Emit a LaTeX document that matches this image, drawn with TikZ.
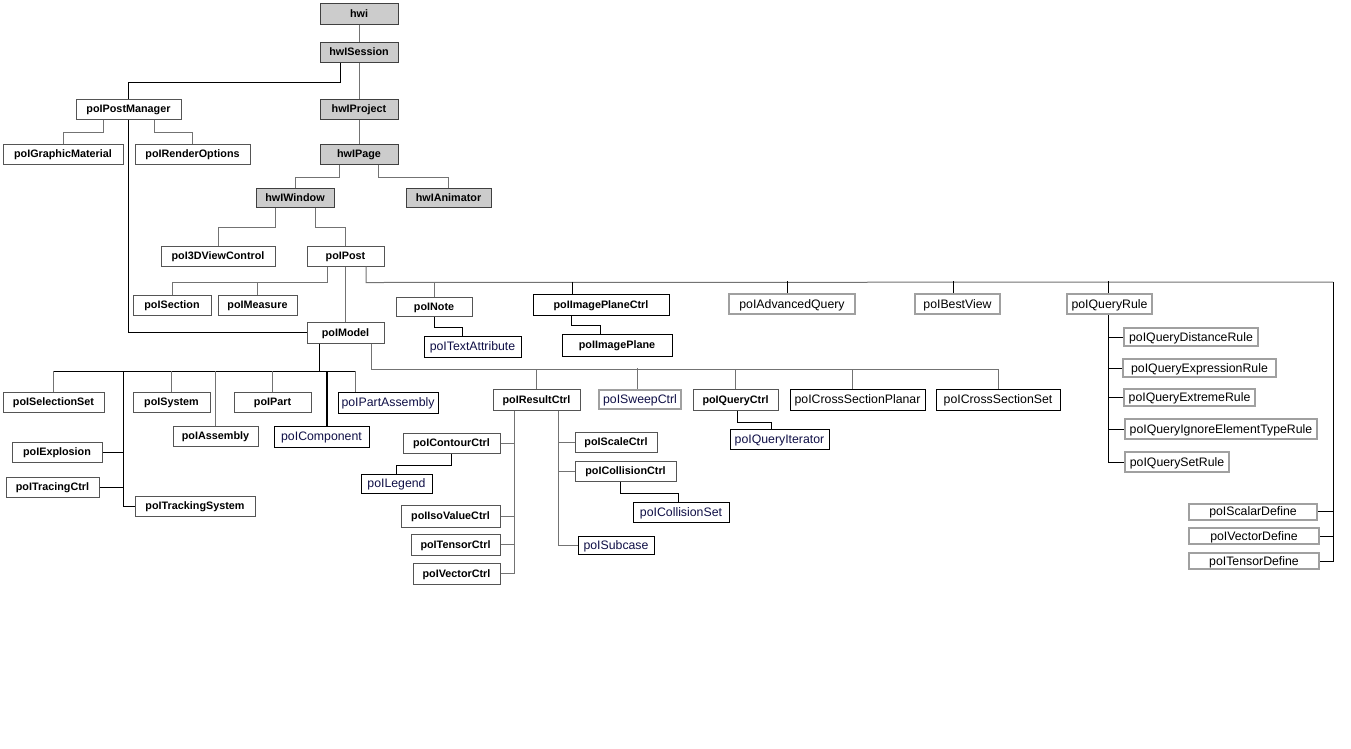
\documentclass[tikz,border=0pt]{standalone}
\usepackage{fontspec}
\setmainfont{Liberation Sans}
\usepackage{tikz}

\definecolor{hwgray}{RGB}{204,204,204}
\definecolor{boxline}{RGB}{85,85,85}
\definecolor{framegray}{RGB}{160,160,160}
\definecolor{linkgray}{RGB}{115,115,115}
\definecolor{polnavy}{RGB}{15,15,70}

\begin{document}
\begin{tikzpicture}[x=1pt, y=-1pt,
    sz/.style 2 args={minimum width=#1pt, minimum height=#2pt},
    polbox/.style={draw=boxline, line width=1pt, fill=white, inner sep=0pt, sz={80}{20},
        text height=7.8pt, text depth=0pt, font=\fontsize{10.8pt}{12pt}\selectfont\bfseries},
    hwbox/.style={polbox, fill=hwgray, draw=black!75},
    inkbox/.style={polbox, draw=black},
    plainbox/.style={draw=black, line width=1pt, fill=white, inner sep=0pt, sz={80}{20},
        text height=8.6pt, text depth=0pt, text=polnavy, font=\fontsize{12.3pt}{14pt}\selectfont},
    greybox/.style={draw=framegray, line width=2pt, fill=white, inner sep=0pt, sz={80}{20},
        text height=8.6pt, text depth=0pt, font=\fontsize{12.3pt}{14pt}\selectfont},
    link/.style={draw=linkgray, line width=1pt},
    blink/.style={draw=black, line width=1pt}]

    \fill[white] (0,0) rectangle (1351,748);
    \useasboundingbox (0,0) rectangle (1351,748);

    \node[hwbox, sz={78}{21}] (hwi) at (359,13.5) {hwi};
    \node[hwbox, sz={78}{20}] (session) at (359,52) {hwISession};
    \node[hwbox, sz={78}{20}] (project) at (359,109) {hwIProject};
    \node[hwbox, sz={78}{20}] (page) at (359,154) {hwIPage};
    \node[hwbox, sz={78}{19}] (window) at (295,197.5) {hwIWindow};
    \node[hwbox, sz={85}{19}] (animator) at (448.5,197.5) {hwIAnimator};

    \node[polbox, sz={105}{20}] (postmgr) at (128.5,109) {poIPostManager};
    \node[polbox, sz={120}{20}] (graphic) at (63,154) {poIGraphicMaterial};
    \node[polbox, sz={115}{20}] (render) at (192.5,154) {poIRenderOptions};
    \node[polbox, sz={114}{20}] (view3d) at (218,256) {poI3DViewControl};
    \node[polbox, sz={77}{20}] (post) at (345.5,256) {poIPost};
    \node[polbox, sz={78}{20}] (section) at (172,305) {poISection};
    \node[polbox, sz={79}{20}] (measure) at (257.5,305) {poIMeasure};
    \node[polbox, sz={77}{21}] (model) at (345.5,332.5) {poIModel};
    \node[polbox, sz={76}{19}] (note) at (434,306.5) {poINote};
    \node[plainbox, sz={97}{21}] (textattr) at (472.5,346.5) {poITextAttribute};
    \node[inkbox, sz={136}{21}] (imgctrl) at (601,304.5) {poIImagePlaneCtrl};
    \node[inkbox, sz={110}{22}] (imgplane) at (617,345) {poIImagePlane};

    \node[greybox, sz={126}{20}] (advquery) at (792,304) {poIAdvancedQuery};
    \node[greybox, sz={85}{20}] (bestview) at (957.5,304) {poIBestView};
    \node[greybox, sz={85}{20}] (qrule) at (1109.5,304) {poIQueryRule};
    \node[greybox, sz={134}{18}] (qdist) at (1191,337) {poIQueryDistanceRule};
    \node[greybox, sz={153}{18}] (qexpr) at (1199.5,368) {poIQueryExpressionRule};
    \node[greybox, sz={131}{17}] (qextreme) at (1189.5,397.5) {poIQueryExtremeRule};
    \node[greybox, sz={192}{20}] (qignore) at (1221,429) {poIQueryIgnoreElementTypeRule};
    \node[greybox, sz={104}{20}] (qset) at (1177,462) {poIQuerySetRule};
    \node[greybox, sz={128}{16}] (scalardef) at (1253,511.5) {poIScalarDefine};
    \node[greybox, sz={130}{16}] (vectordef) at (1254,536) {poIVectorDefine};
    \node[greybox, sz={130}{16}] (tensordef) at (1254,561) {poITensorDefine};

    \node[polbox, sz={101}{20}] (selset) at (53.5,402) {poISelectionSet};
    \node[polbox, sz={77}{20}] (system) at (171.5,402) {poISystem};
    \node[polbox, sz={77}{20}] (part) at (272.5,402) {poIPart};
    \node[plainbox, sz={100}{21}] (partasm) at (388,402.5) {poIPartAssembly};
    \node[polbox, sz={85}{20}] (assembly) at (215.5,436) {poIAssembly};
    \node[plainbox, sz={95}{21}] (component) at (321.5,436.5) {poIComponent};
    \node[polbox, sz={90}{20}] (explosion) at (57,452) {poIExplosion};
    \node[polbox, sz={93}{20}] (tracing) at (52.5,487) {poITracingCtrl};
    \node[polbox, sz={120}{20}] (tracking) at (195,506) {poITrackingSystem};

    \node[polbox, sz={87}{21}] (result) at (536.5,399.5) {poIResultCtrl};
    \node[greybox, text=polnavy, sz={82}{19}] (sweep) at (640,399.5) {poISweepCtrl};
    \node[polbox, sz={85}{21}] (qctrl) at (735.5,399.5) {poIQueryCtrl};
    \node[plainbox, text=black, sz={135}{21}] (xplanar) at (857.5,399.5) {poICrossSectionPlanar};
    \node[plainbox, text=black, sz={124}{21}] (xset) at (998,399.5) {poICrossSectionSet};
    \node[plainbox, sz={99}{20}] (qiter) at (779.5,439) {poIQueryIterator};

    \node[polbox, sz={97}{20}] (contour) at (451.5,443) {poIContourCtrl};
    \node[plainbox, sz={71}{19}] (legend) at (396.5,483.5) {poILegend};
    \node[polbox, sz={99}{22}] (isovalue) at (450.5,516) {poIIsoValueCtrl};
    \node[polbox, sz={89}{21}] (tensor) at (455.5,544.5) {poITensorCtrl};
    \node[polbox, sz={87}{21}] (vector) at (456.5,573.5) {poIVectorCtrl};
    \node[polbox, sz={82}{20}] (scale) at (616,442) {poIScaleCtrl};
    \node[polbox, sz={101}{20}] (collision) at (625.5,471) {poICollisionCtrl};
    \node[plainbox, sz={96}{20}] (collset) at (681,512) {poICollisionSet};
    \node[plainbox, sz={76}{18}] (subcase) at (616,545) {poISubcase};

    \draw[link] (hwi) -- (session);
    \draw[link] (session) -- (project);
    \draw[link] (project) -- (page);
    \draw[blink] ([xshift=-19pt]session.south) -- ++(0,20) -| (postmgr);
    \draw[link] ([xshift=-25.5pt]postmgr.south) -- ++(0,13) -| (graphic);
    \draw[link] ([xshift=25.5pt]postmgr.south) -- ++(0,13) -| (render);
    \draw[blink] (postmgr) |- (model);
    \draw[link] ([xshift=-20pt]page.south) -- ++(0,13) -| (window);
    \draw[link] ([xshift=19pt]page.south) -- ++(0,13) -| (animator);
    \draw[link] ([xshift=-20pt]window.south) -- ++(0,20) -| (view3d);
    \draw[link] ([xshift=20pt]window.south) -- ++(0,20) -| (post);
    \draw[link] ([xshift=-18.5pt]post.south) -- ++(0,16) -| (section);
    \draw[link] ([xshift=-18.5pt]post.south) -- ++(0,16) -| (measure);
    \draw[link] (post) -- (model);

    \draw[link] ([xshift=20.5pt]post.south) -- ++(0,16) coordinate (postbus) -- (1333,282) coordinate (defbus);
    \draw[blink] (defbus) |- (tensordef);
    \draw[blink] (scalardef) -- (scalardef -| defbus);
    \draw[blink] (vectordef) -- (vectordef -| defbus);
    \draw[link] (note) -- (note |- postbus);
    \draw[blink] (note.south) -- ++(0,11) -| ([xshift=-10.5pt]textattr.north);
    \draw[blink] ([xshift=-29pt]imgctrl.north) -- ++(0,-12);
    \draw[blink] ([xshift=-30pt]imgctrl.south) -- ++(0,10) -| ([xshift=-17pt]imgplane.north);
    \draw[blink] ([xshift=-5pt]advquery.north) -- ++(0,-12);
    \draw[blink] ([xshift=-4.5pt]bestview.north) -- ++(0,-12);
    \draw[blink] ([xshift=-1.5pt]qrule.north) -- ++(0,-12);
    \coordinate (ruletrunk) at ([xshift=-1.5pt]qrule.south);
    \draw[blink] (ruletrunk) |- (qset);
    \draw[blink] (qdist) -- (qdist -| ruletrunk);
    \draw[blink] (qexpr) -- (qexpr -| ruletrunk);
    \draw[blink] (qextreme) -- (qextreme -| ruletrunk);
    \draw[blink] (qignore) -- (qignore -| ruletrunk);

    \coordinate (modelbus) at (319,371);
    \coordinate (trackbus) at (123,371);
    \draw[blink] ([xshift=-26.5pt]model.south) -- (modelbus);
    \draw[blink] (selset |- modelbus) -- (355,371);
    \draw[link] (selset) -- (selset |- modelbus);
    \draw[link] (system) -- (system |- modelbus);
    \draw[link] (assembly) -- (assembly |- modelbus);
    \draw[link] (part) -- (part |- modelbus);
    \draw[blink, line width=1.5pt] ([xshift=5.5pt]component.north) -- ++(0,-55);
    \draw[link] ([xshift=-33pt]partasm.north) -- ++(0,-21);
    \draw[blink] (trackbus) |- (tracking);
    \draw[blink] (explosion) -- (explosion -| trackbus);
    \draw[blink] (tracing) -- (tracing -| trackbus);

    \draw[link] ([xshift=25.5pt]model.south) -- ++(0,26) coordinate (resbus) -| (xset);
    \draw[link] (result) -- (result |- resbus);
    \draw[link] ([xshift=-3pt]sweep.north) -- ++(0,-21);
    \draw[link] (qctrl) -- (qctrl |- resbus);
    \draw[link] ([xshift=-5.5pt]xplanar.north) -- ++(0,-20);
    \draw[blink] ([xshift=1.5pt]qctrl.south) -- ++(0,12) -| ([xshift=-8.5pt]qiter.north);

    \coordinate (resleft) at ([xshift=-22.5pt]result.south);
    \coordinate (resright) at ([xshift=21.5pt]result.south);
    \draw[link] (resleft) |- (vector);
    \draw[link] (contour) -- (contour -| resleft);
    \draw[link] (isovalue) -- (isovalue -| resleft);
    \draw[link] (tensor) -- (tensor -| resleft);
    \draw[link] (resright) |- (subcase);
    \draw[link] (scale) -- (scale -| resright);
    \draw[link] (collision) -- (collision -| resright);
    \draw[blink] (contour.south) -- ++(0,12) -| (legend);
    \draw[blink] ([xshift=-5.5pt]collision.south) -- ++(0,12) -| ([xshift=-3pt]collset.north);
\end{tikzpicture}
\end{document}
